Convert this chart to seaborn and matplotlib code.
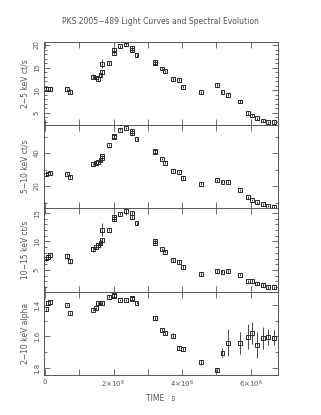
import matplotlib
matplotlib.use("Agg")
import matplotlib.pyplot as plt
import matplotlib.ticker as mticker
import numpy as np
import seaborn as sns

# time of each observation (units of 1e6 s)
time_ms = [0.04, 0.09, 0.14, 0.63, 0.73, 1.41, 1.48, 1.55, 1.62, 1.65, 1.65, 1.87,
           2.02, 2.02, 2.19, 2.36, 2.54, 2.54, 2.67, 3.21, 3.21, 3.42, 3.51, 3.74,
           3.91, 4.04, 4.54, 5.01, 5.18, 5.35, 5.69, 5.93, 6.04, 6.20, 6.36, 6.52, 6.68]

rate_2_5 = [10.2, 10.3, 10.3, 10.2, 9.7, 13.0, 12.8, 12.4, 13.4, 14.0, 15.8, 16.0,
            18.9, 18.2, 19.7, 20.1, 19.3, 18.9, 17.7, 16.3, 15.9, 14.8, 14.2, 12.5,
            12.3, 10.8, 9.5, 11.2, 9.6, 9.0, 7.5, 4.9, 4.4, 3.8, 3.3, 2.9, 2.9]
err_2_5 = [0.25, 0.25, 0.25, 0.3, 0.5, 0.5, 0.3, 0.3, 0.4, 0.5, 1.0, 0.4,
           0.5, 0.3, 0.3, 0.3, 0.4, 0.4, 0.3, 0.4, 0.3, 0.3, 0.3, 0.4,
           0.3, 0.3, 0.3, 0.4, 0.3, 0.3, 0.3, 0.3, 0.4, 0.3, 0.3, 0.3, 0.3]

rate_5_10 = [27.0, 27.6, 28.0, 27.5, 25.6, 33.3, 34.1, 34.8, 35.6, 36.8, 38.3, 44.8,
             49.9, 50.3, 54.1, 55.2, 53.5, 51.9, 48.5, 41.2, 40.4, 36.4, 34.1, 29.1,
             28.5, 25.0, 21.4, 23.4, 22.4, 22.2, 17.6, 13.2, 11.5, 10.1, 8.9, 7.9, 7.5]
err_5_10 = [0.8] * len(time_ms)

rate_10_15 = [7.0, 7.3, 7.6, 7.4, 6.5, 8.6, 9.0, 9.4, 9.8, 10.2, 12.1, 12.1,
              14.3, 14.0, 14.9, 15.3, 15.0, 14.3, 13.2, 10.1, 9.8, 8.6, 8.2, 6.7,
              6.4, 5.5, 4.3, 4.8, 4.7, 4.8, 4.15, 3.0, 3.0, 2.6, 2.3, 2.0, 1.9]
err_10_15 = [0.4, 0.4, 0.4, 0.5, 0.5, 0.5, 0.4, 0.4, 0.4, 0.5, 1.2, 0.3,
             0.4, 0.4, 0.3, 0.6, 0.4, 0.4, 0.3, 0.4, 0.3, 0.3, 0.3, 0.4,
             0.4, 0.3, 0.3, 0.3, 0.3, 0.3, 0.3, 0.3, 0.4, 0.3, 0.3, 0.3, 0.3]

alpha_2_10 = [1.427, 1.385, 1.383, 1.40, 1.453, 1.432, 1.421, 1.389, 1.389, 1.389, 1.389, 1.347,
              1.337, 1.340, 1.368, 1.368, 1.357, 1.360, 1.385, 1.485, 1.485, 1.559, 1.576, 1.595,
              1.671, 1.681, 1.764, 1.813, 1.703, 1.639, 1.643, 1.601, 1.576, 1.654, 1.612, 1.601, 1.607]
err_alpha = [0.008, 0.008, 0.008, 0.008, 0.01, 0.008, 0.008, 0.008, 0.008, 0.008, 0.008, 0.01,
             0.008, 0.008, 0.008, 0.008, 0.008, 0.008, 0.01, 0.01, 0.01, 0.01, 0.012, 0.015,
             0.012, 0.012, 0.015, 0.015, 0.03, 0.085, 0.07, 0.08, 0.07, 0.08, 0.07, 0.05, 0.05]

y_labels = ["2\u22125 keV ct/s", "5\u221210 keV ct/s", "10\u221215 keV ct/s", "2\u221210 keV alpha"]

sns.set_theme(style="ticks")
plt.rcParams["font.family"] = ["DejaVu Sans"]
GREY = "#555555"
INK = "#2a2a2a"

fig = plt.figure(figsize=(3.21, 4.15), dpi=100)
left, width = 44 / 321, 234 / 321
top_px = [42, 125, 208, 292]
bot_px = [125, 208, 292, 375]

# (values, errors, ylim, major step, minor step)
panels = [
    (rate_2_5, err_2_5, (2.3, 20.66), 5, 1),
    (rate_5_10, err_5_10, (6.7, 57.0), 20, 10),
    (rate_10_15, err_10_15, (1.1, 15.9), 5, 1),
    (alpha_2_10, err_alpha, (1.845, 1.317), 0.2, 0.1),  # inverted like the original
]

t = np.array(time_ms) * 1e6
for k, (vals, errs, ylim, major, minor) in enumerate(panels):
    b = 1 - bot_px[k] / 415
    h = (bot_px[k] - top_px[k]) / 415
    ax = fig.add_axes([left, b, width, h])
    ax.errorbar(t, vals, yerr=errs, fmt="none", ecolor=INK, elinewidth=0.6, capsize=0)
    sns.scatterplot(x=t, y=vals, ax=ax, marker="s", s=8, facecolor="none",
                    edgecolor=INK, linewidth=0.7)
    ax.set_xlim(-0.03e6, 6.8e6)
    ax.set_ylim(*ylim)
    ax.xaxis.set_major_locator(mticker.MultipleLocator(2e6))
    ax.xaxis.set_minor_locator(mticker.MultipleLocator(1e6))
    ax.yaxis.set_major_locator(mticker.MultipleLocator(major))
    ax.yaxis.set_minor_locator(mticker.MultipleLocator(minor))
    ax.tick_params(which="both", direction="in", top=True, right=True, color=GREY,
                   width=0.6, labelsize=5, labelcolor=GREY)
    ax.tick_params(which="major", length=4)
    ax.tick_params(axis="x", which="minor", length=4)
    ax.tick_params(axis="y", which="minor", length=2)
    ax.tick_params(axis="y", labelrotation=90, pad=3)
    for lab in ax.get_yticklabels():
        lab.set_va("center")
    for sp in ax.spines.values():
        sp.set_color(GREY)
        sp.set_linewidth(0.7)
    ax.set_ylabel(y_labels[k], fontsize=5.5, color=GREY, labelpad=3)
    if k == 3:
        ax.yaxis.set_major_formatter(mticker.FormatStrFormatter("%.1f"))
        ax.xaxis.set_major_formatter(mticker.FuncFormatter(
            lambda v, p: "0" if v == 0 else r"$%d{\times}10^6$" % round(v / 1e6)))
        ax.tick_params(axis="x", pad=3)
    else:
        ax.set_xticklabels([])

fig.text(0.5, 1 - 22 / 415, "PKS 2005\u2212489 Light Curves and Spectral Evolution",
         ha="center", va="center", fontsize=5.5, color=GREY)
fig.text(0.5, 1 - 398 / 415, "TIME   s", ha="center", va="center", fontsize=5.5, color=GREY)

fig.savefig("out.png", dpi=100)
